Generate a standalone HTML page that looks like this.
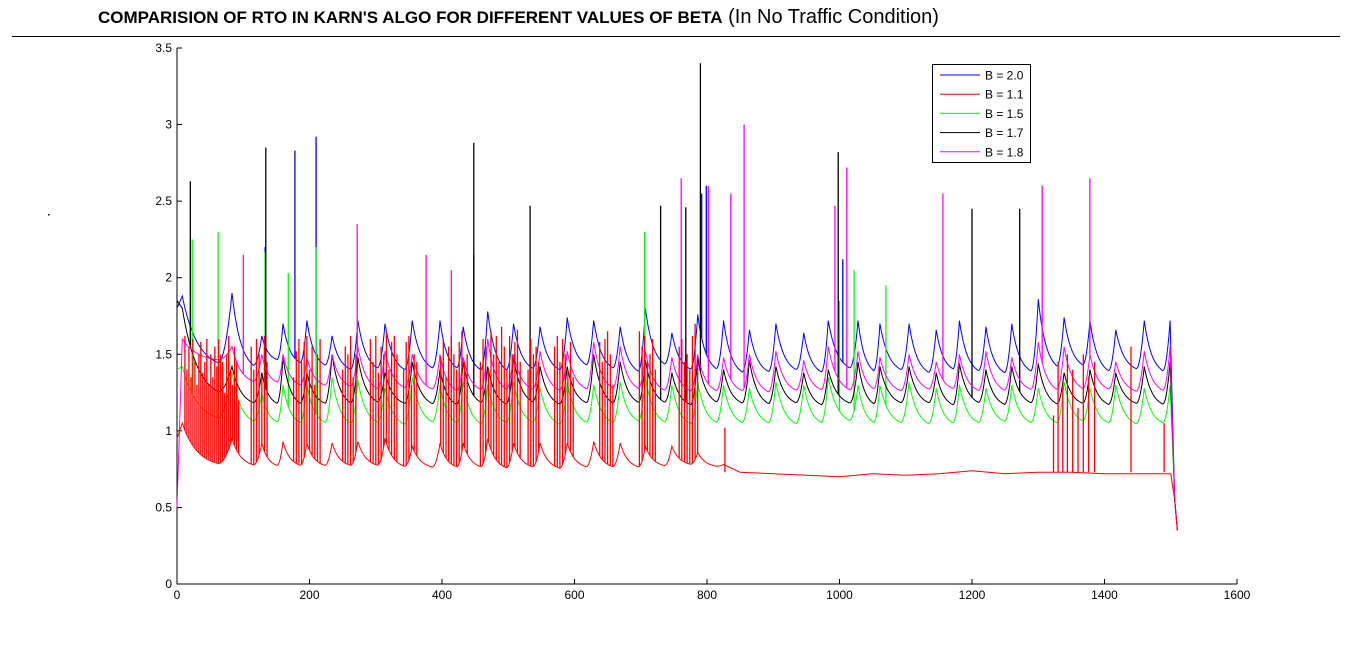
<!DOCTYPE html>
<html><head><meta charset="utf-8">
<style>
body{margin:0;background:#fff;width:1366px;height:656px;overflow:hidden;font-family:"Liberation Sans",sans-serif}
#title{position:absolute;left:98px;top:6px;font-size:20px;white-space:nowrap;font-family:"Liberation Sans Narrow","Liberation Sans",sans-serif}
#title b{font-size:17px}
#rule{position:absolute;left:12px;top:36px;width:1328px;height:1px;background:#000}
svg{position:absolute;left:0;top:0}
</style></head><body>
<div id="title"><b>COMPARISION OF RTO IN KARN'S ALGO FOR DIFFERENT VALUES OF BETA</b> (In No Traffic Condition)</div>
<div id="rule"></div>
<svg id="chart" width="1366" height="656"></svg>
<script>
const xTicks=[0,200,400,600,800,1000,1200,1400,1600];
const yTicks=[0,0.5,1,1.5,2,2.5,3,3.5];
const peakX=[8,83,128,160,196,234,273,314,355,397,432,469,508,548,589,629,669,707,747,786,825,864,904,946,983,1028,1061,1105,1146,1181,1221,1260,1300,1339,1378,1417,1460,1499];
const bluePeaks=[1.88,1.9,1.62,1.7,1.72,1.62,1.72,1.7,1.72,1.72,1.68,1.78,1.7,1.68,1.74,1.72,1.68,1.8,1.64,1.76,1.72,1.66,1.7,1.64,1.72,1.72,1.7,1.7,1.66,1.72,1.68,1.7,1.86,1.74,1.72,1.66,1.72,1.72];
const blueTroughs=[1.4,1.38,1.45,1.42,1.4,1.38,1.38,1.37,1.38,1.38,1.37,1.36,1.38,1.37,1.4,1.38,1.36,1.4,1.38,1.37,1.35,1.36,1.37,1.36,1.38,1.36,1.37,1.35,1.38,1.36,1.35,1.36,1.38,1.4,1.36,1.38,1.36,1.35];
const magPeaks=[1.6,1.55,1.5,1.5,1.48,1.5,1.55,1.52,1.5,1.5,1.48,1.6,1.5,1.52,1.52,1.58,1.55,1.52,1.48,1.5,1.48,1.5,1.52,1.46,1.55,1.52,1.48,1.5,1.45,1.5,1.52,1.48,1.58,1.55,1.5,1.45,1.52,1.55];
const magTroughs=[1.45,1.3,1.3,1.28,1.28,1.27,1.25,1.26,1.25,1.24,1.25,1.24,1.25,1.24,1.25,1.25,1.25,1.24,1.24,1.24,1.24,1.23,1.24,1.25,1.24,1.25,1.24,1.25,1.26,1.24,1.24,1.25,1.24,1.25,1.25,1.24,1.24,1.22];
const blackPeaks=[1.8,1.42,1.38,1.48,1.38,1.5,1.48,1.38,1.45,1.4,1.45,1.42,1.48,1.42,1.42,1.5,1.45,1.46,1.38,1.48,1.4,1.46,1.42,1.38,1.4,1.45,1.42,1.42,1.38,1.44,1.4,1.42,1.44,1.38,1.4,1.38,1.42,1.45];
const blackTroughs=[1.2,1.16,1.16,1.15,1.16,1.15,1.16,1.16,1.15,1.15,1.16,1.15,1.16,1.15,1.16,1.15,1.16,1.16,1.15,1.16,1.16,1.15,1.16,1.15,1.16,1.15,1.16,1.16,1.15,1.16,1.15,1.16,1.15,1.16,1.15,1.16,1.15,1.15];
const greenPeaks=[1.42,1.38,1.25,1.3,1.3,1.35,1.33,1.28,1.35,1.3,1.32,1.3,1.32,1.28,1.32,1.3,1.32,1.35,1.3,1.32,1.3,1.28,1.32,1.3,1.35,1.3,1.3,1.32,1.28,1.3,1.28,1.3,1.28,1.32,1.28,1.3,1.28,1.3];
const greenTroughs=[1.05,1.03,1.04,1.03,1.03,1.02,1.03,1.02,1.03,1.03,1.02,1.03,1.03,1.02,1.03,1.03,1.04,1.03,1.02,1.03,1.03,1.03,1.02,1.03,1.04,1.03,1.03,1.02,1.03,1.03,1.04,1.03,1.03,1.04,1.03,1.02,1.03,1.02];
const redPeaks=[1.05,0.95,0.92,0.93,0.92,0.92,0.93,0.95,0.9,0.92,0.92,0.95,0.92,0.92,0.92,0.93,0.92,0.9,0.9,0.86,0.78];
const redTroughs=[0.76,0.76,0.76,0.76,0.76,0.76,0.76,0.75,0.75,0.75,0.75,0.74,0.75,0.74,0.75,0.75,0.75,0.76,0.77,0.76,0.75];
const redTailX=[850,900,950,1000,1050,1100,1150,1200,1250,1300,1350,1400,1450,1500];
const redTailY=[0.73,0.72,0.71,0.7,0.72,0.71,0.72,0.74,0.72,0.73,0.73,0.72,0.72,0.72];
const redSpikeX=[12,15,18,21,24,27,30,33,36,39,42,45,48,51,54,57,60,63,66,69,72,75,78,81,84,87,90,93,112,116,120,124,128,132,136,176,180,184,188,192,196,200,204,208,212,216,250,254,258,262,266,270,292,296,300,304,308,312,316,320,324,328,332,342,346,350,354,358,362,398,402,406,410,414,418,422,426,430,434,438,458,462,466,470,474,478,482,486,490,494,498,502,506,510,514,518,530,534,538,542,546,570,574,578,582,586,590,594,598,638,642,646,650,654,658,698,702,706,710,714,718,722,758,762,766,770,774,778,782,786,827,1323,1330,1337,1344,1352,1360,1368,1376,1385,1440,1490];
const redSpikeY=[1.62,1.4,1.55,1.35,1.6,1.45,1.3,1.5,1.58,1.38,1.45,1.6,1.3,1.5,1.35,1.55,1.42,1.6,1.5,1.45,1.25,1.5,1.62,1.4,1.3,1.55,1.45,1.2,1.55,1.4,1.6,1.5,1.35,1.62,1.45,1.35,1.52,1.6,1.45,1.58,1.62,1.4,1.55,1.3,1.5,1.6,1.4,1.55,1.5,1.62,1.35,1.5,1.6,1.45,1.62,1.38,1.55,1.5,1.65,1.4,1.58,1.62,1.5,1.4,1.58,1.62,1.3,1.5,1.45,1.48,1.6,1.35,1.55,1.62,1.5,1.4,1.58,1.65,1.45,1.5,1.45,1.6,1.55,1.4,1.65,1.5,1.62,1.45,1.68,1.55,1.4,1.62,1.5,1.58,1.66,1.45,1.4,1.6,1.5,1.55,1.45,1.55,1.62,1.45,1.6,1.5,1.4,1.58,1.35,1.58,1.45,1.6,1.65,1.5,1.3,1.65,1.55,1.62,1.45,1.5,1.6,1.4,1.55,1.6,1.45,1.5,1.4,1.62,1.7,1.45,1.02,1.1,1.45,1.3,1.5,1.4,1.15,1.5,1.35,1.45,1.55,1.05,1.5];
const blueSpikeX=[133,178,210,448,792,799,1005];
const blueSpikeY=[2.2,2.83,2.92,2.15,2.55,2.6,2.12];
const greenSpikeX=[23,62,133,168,210,272,706,1000,1022,1070];
const greenSpikeY=[2.25,2.3,2.17,2.03,2.2,1.75,2.3,1.85,2.05,1.95];
const blackSpikeX=[20,134,448,533,730,768,790,998,1200,1272];
const blackSpikeY=[2.63,2.85,2.88,2.47,2.47,2.46,3.4,2.82,2.45,2.45];
const magSpikeX=[100,272,376,414,761,802,836,856,993,1011,1156,1306,1378];
const magSpikeY=[2.15,2.35,2.15,2.05,2.65,2.6,2.55,3.0,2.47,2.72,2.55,2.6,2.65];

const X0=177,X1=1237,Y0=584,Y1=48;
const sx=v=>X0+(v-0)/(1600-0)*(X1-X0);
const sy=v=>Y0-(v-0)/(3.5-0)*(Y0-Y1);
const svg=document.getElementById('chart');
const NS='http://www.w3.org/2000/svg';
function mk(t,a){const e=document.createElementNS(NS,t);for(const k in a)e.setAttribute(k,a[k]);svg.appendChild(e);return e;}

let ax=mk('path',{d:`M${X0} ${Y1}V${Y0}H${X1}`,stroke:'#000',fill:'none','stroke-width':1});


xTicks.forEach(t=>{
  const l=mk('line',{x1:sx(t),x2:sx(t),y1:Y0,y2:Y0-5,stroke:'#000'});
  
  
  const tx=mk('text',{x:sx(t),y:Y0+15,'font-size':12,'text-anchor':'middle'});tx.textContent=t;
  
  
});
yTicks.forEach(t=>{
  const l=mk('line',{x1:X0,x2:X0+5,y1:sy(t),y2:sy(t),stroke:'#000'});
  
  
  const tx=mk('text',{x:X0-5,y:sy(t)+4,'font-size':12,'text-anchor':'end'});tx.textContent=t;
  
  
});

function valueAt(px,peaks,troughs,x){
  for(let i=0;i<peaks.length-1;i++){
    if(x>=px[i]&&x<=px[i+1]){
      const f=(x-px[i])/(px[i+1]-px[i]);
      const tr=troughs[i];
      if(f<0.72){return tr+(peaks[i]-tr)*Math.exp(-f*3.3);}
      const v0=tr+(peaks[i]-tr)*Math.exp(-0.72*3.3);
      const g=(f-0.72)/0.28;
      return v0+(peaks[i+1]-v0)*g*g;
    }
  }
  return peaks[peaks.length-1];
}
function series(name,color,peaks,troughs,spX,spY,tailX,tailY,startV){
  const n=peaks.length,px=peakX.slice(0,n);
  let pts=[[0,startV]];
  for(let x=px[0];x<=px[n-1];x+=1){pts.push([x,valueAt(px,peaks,troughs,x)]);}
  if(tailX){tailX.forEach((x,i)=>pts.push([x,tailY[i]]));}
  pts.push([1506,0.55],[1510,0.35]);
  let d=pts.map((p,i)=>(i?'L':'M')+sx(p[0]).toFixed(1)+' '+sy(p[1]).toFixed(1)).join('');
  const line=mk('path',{d,stroke:color,fill:'none','stroke-width':1});
  
  
  let sd='';
  spX.forEach((x,i)=>{
    let base;
    if(x<=px[n-1])base=valueAt(px,peaks,troughs,x);else base=tailY?tailY[0]:peaks[n-1];
    sd+=`M${sx(x).toFixed(1)} ${sy(base).toFixed(1)}V${sy(spY[i]).toFixed(1)}`;
  });
  const sp=mk('path',{d:sd,stroke:color,fill:'none','stroke-width':1.3});
  
  
}
series('beta-2-0','#0000ff',bluePeaks,blueTroughs,blueSpikeX,blueSpikeY,null,null,1.8);
series('beta-1-5','#00ff00',greenPeaks,greenTroughs,greenSpikeX,greenSpikeY,null,null,1.4);
series('beta-1-7','#000000',blackPeaks,blackTroughs,blackSpikeX,blackSpikeY,null,null,1.85);
series('beta-1-8','#ff00ff',magPeaks,magTroughs,magSpikeX,magSpikeY,null,null,0.5);
series('beta-1-1','#ff0000',redPeaks,redTroughs,redSpikeX,redSpikeY,redTailX,redTailY,0.95);

const leg=mk('rect',{x:932.5,y:64.5,width:98,height:98,fill:'#fff',stroke:'#000'});


const legNames=['B = 2.0','B = 1.1','B = 1.5','B = 1.7','B = 1.8'];
const legColors=['#0000ff','#ff0000','#00ff00','#000000','#ff00ff'];
legNames.forEach((n,i)=>{
  const y=75+i*19.2;
  const l=mk('line',{x1:940,x2:980,y1:y,y2:y,stroke:legColors[i]});
  
  
  const t=mk('text',{x:985,y:y+4.5,'font-size':12});t.textContent=n;
  
  
});
const dot=mk('rect',{x:48,y:214,width:1.5,height:1.5,fill:'#000'});


</script>
</body></html>
